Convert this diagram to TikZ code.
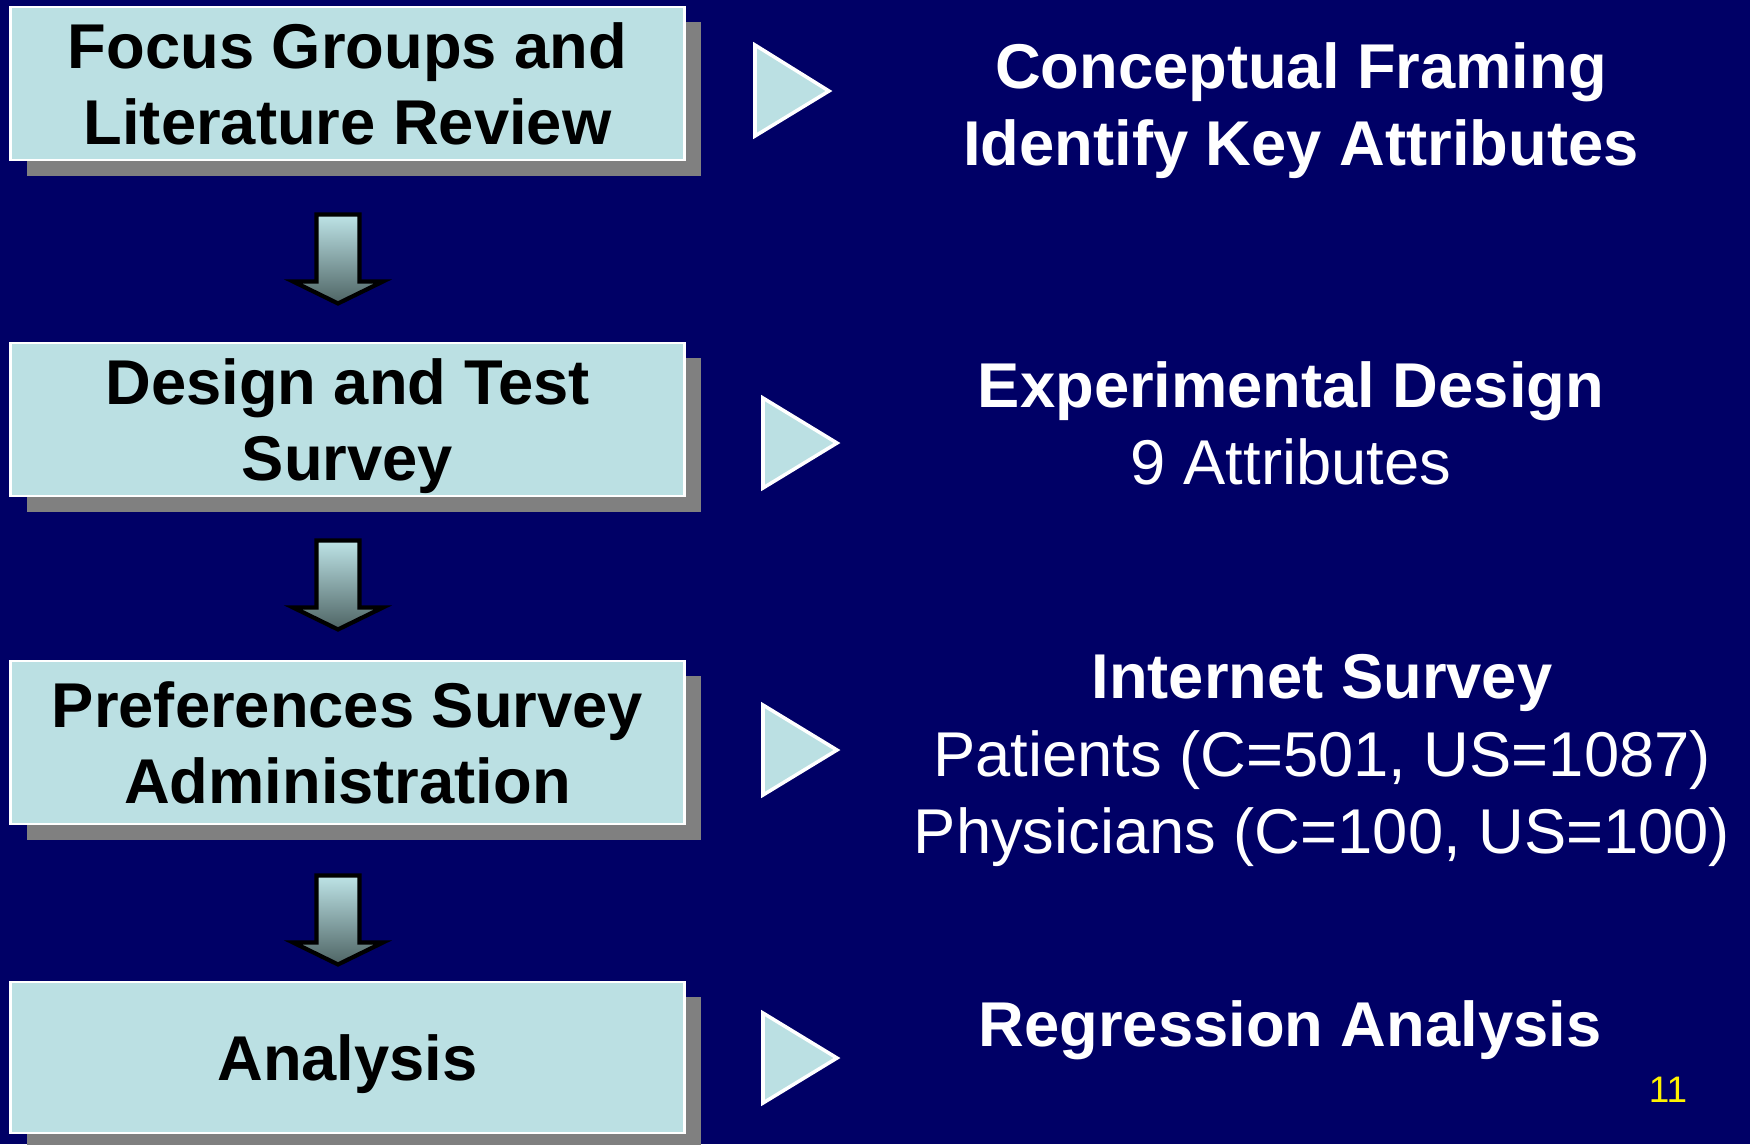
\documentclass[tikz,border=0pt]{standalone}
\usepackage{fontspec}
\setmainfont{Liberation Sans}
\usetikzlibrary{shadows,calc}
\definecolor{bgnavy}{RGB}{0,0,102}
\definecolor{boxcyan}{RGB}{187,224,227}
\definecolor{shadowgray}{RGB}{128,128,128}
\definecolor{arrowtop}{RGB}{190,228,231}
\definecolor{arrowbot}{RGB}{78,100,100}
\begin{document}
\begin{tikzpicture}[x=0.01cm,y=-0.01cm,
  stagebox/.style={draw=white, line width=0.8pt, fill=boxcyan, minimum width=6.73cm,
    align=center, text=black, text depth=0pt, font=\fontsize{18}{21.6}\selectfont\bfseries,
    drop shadow={shadow xshift=0.165cm, shadow yshift=-0.155cm, fill=shadowgray, opacity=1}},
  blockarrow/.style={draw=black, line width=1.2pt, line join=miter, top color=arrowtop, bottom color=arrowbot},
  pointer/.style={draw=white, line width=1pt, line join=miter, fill=boxcyan},
  notes/.style={text=white, align=center, text depth=0pt, font=\fontsize{18}{22}\selectfont}]
\fill[bgnavy] (0,0) rectangle (1750,1144);
\useasboundingbox (0,0) rectangle (1750,1144);

% left column
\node[stagebox, minimum height=1.53cm] (focus) at (347.5,83.5)
{Focus Groups and\\Literature Review};
\node[stagebox, minimum height=1.53cm] (design) at (347.5,419.5)
{Design and Test\\Survey};
\node[stagebox, minimum height=1.63cm] (admin) at (347.5,742.5)
{Preferences Survey\\Administration};
\node[stagebox, minimum height=1.51cm] (analysis) at (347.5,1057.5)
{Analysis};

% block arrows
\draw[blockarrow] ($(focus.south)+(-31,53)$) -- ++(43,0) -- ++(0,67) -- ++(23.5,0)
  -- ++(-45,22) -- ++(-45,-22) -- ++(23.5,0) -- cycle;
\draw[blockarrow] ($(design.south)+(-31,43)$) -- ++(43,0) -- ++(0,67) -- ++(23.5,0)
  -- ++(-45,22) -- ++(-45,-22) -- ++(23.5,0) -- cycle;
\draw[blockarrow] ($(admin.south)+(-31,50)$) -- ++(43,0) -- ++(0,67) -- ++(23.5,0)
  -- ++(-45,22) -- ++(-45,-22) -- ++(23.5,0) -- cycle;

% pointers
\draw[pointer] (755,45) -- (829,91) -- (755,136) -- cycle;
\draw[pointer] (763,398) -- (837,443) -- (763,488) -- cycle;
\draw[pointer] (763,705) -- (837,750) -- (763,795) -- cycle;
\draw[pointer] (763,1013) -- (837,1058) -- (763,1103) -- cycle;

% right column
\node[notes] (framing) at (1301,104)
{\textbf{Conceptual Framing}\\\textbf{Identify Key Attributes}};
\node[notes] (expdesign) at (1291,423)
{\textbf{Experimental Design}\\9 Attributes};
\node[notes] (internet) at (1322,754)
{\textbf{Internet Survey}\\Patients (C=501, US=1087)\\Physicians (C=100, US=100)};
\node[notes] (regression) at (1290,1024)
{\textbf{Regression Analysis}};
\node[text=yellow, font=\fontsize{10.5}{12}\selectfont] (pagenum) at (1668,1090) {11};
\end{tikzpicture}
\end{document}
